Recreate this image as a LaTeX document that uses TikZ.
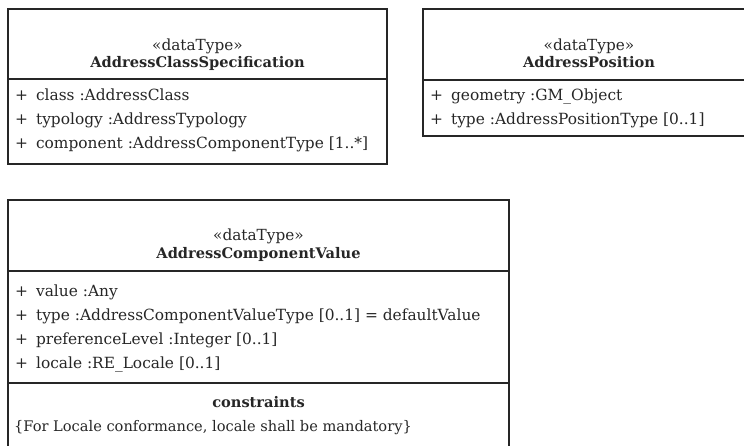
\documentclass[tikz,border=0pt]{standalone}
\usepackage{fontspec}
\setmainfont{DejaVu Serif}
\newcommand{\plusattr}[1]{+\hspace{8pt}#1}
\begin{document}
\begin{tikzpicture}[x=1pt, y=-1pt,
  box/.style = {draw=black!85, line width=1.4pt},
  stereo/.style = {anchor=base, inner sep=0pt, font=\fontsize{15.3}{18}\selectfont, text=black!85},
  clsname/.style = {anchor=base, inner sep=0pt, font=\fontsize{14.6}{18}\selectfont\bfseries, text=black!85},
  attr/.style = {anchor=base west, inner sep=0pt, font=\fontsize{15.4}{18}\selectfont, text=black!85}]
  \clip (0,0) rectangle (744,445);
  % AddressClassSpecification
  \draw[box] (8,9) rectangle (387,164);
  \draw[box] (8,79) -- (387,79);
  \node[stereo]  (acsStereo) at (197.5,50) {«dataType»};
  \node[clsname] (acsName)   at (197.5,67) {AddressClassSpecification};
  \node[attr] (acsClass)     at (15,100) {\plusattr{class :AddressClass}};
  \node[attr] (acsTypology)  at (15,124) {\plusattr{typology :AddressTypology}};
  \node[attr] (acsComponent) at (15,148) {\plusattr{component :AddressComponentType [1..*]}};
  % AddressPosition
  \draw[box] (423,9) rectangle (755,136);
  \draw[box] (423,80) -- (755,80);
  \node[stereo]  (apStereo) at (589,50) {«dataType»};
  \node[clsname] (apName)   at (589,67) {AddressPosition};
  \node[attr] (apGeometry)  at (430,100) {\plusattr{geometry :GM\_Object}};
  \node[attr] (apType)      at (430,124) {\plusattr{type :AddressPositionType [0..1]}};
  % AddressComponentValue
  \draw[box] (8,200) rectangle (509,460);
  \draw[box] (8,271) -- (509,271);
  \draw[box] (8,383) -- (509,383);
  \node[stereo]  (acvStereo) at (258.5,240) {«dataType»};
  \node[clsname] (acvName)   at (258.5,258) {AddressComponentValue};
  \node[attr] (acvValue)     at (15,296) {\plusattr{value :Any}};
  \node[attr] (acvType)      at (15,320) {\plusattr{type :AddressComponentValueType [0..1] = defaultValue}};
  \node[attr] (acvPref)      at (15,344) {\plusattr{preferenceLevel :Integer [0..1]}};
  \node[attr] (acvLocale)    at (15,368) {\plusattr{locale :RE\_Locale [0..1]}};
  \node[clsname] (acvConstr) at (258.5,407) {constraints};
  \node[attr, font=\fontsize{14.6}{18}\selectfont] (acvRule) at (14,431) {\{For Locale conformance, locale shall be mandatory\}};
\end{tikzpicture}
\end{document}
